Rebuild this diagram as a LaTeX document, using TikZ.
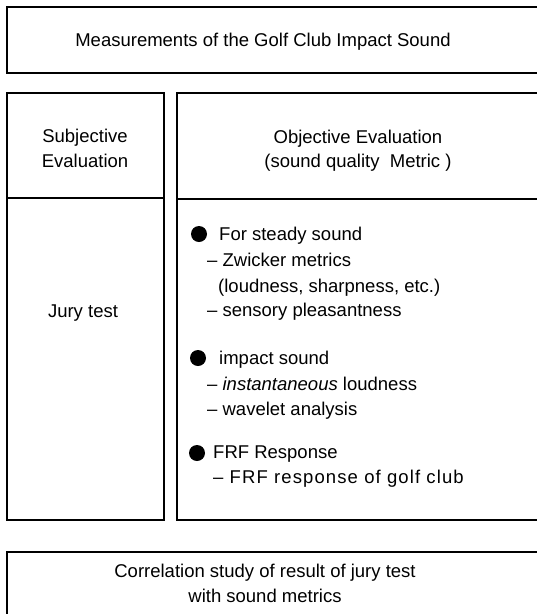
\documentclass[tikz,border=0pt]{standalone}
\usepackage{fontspec}
\setmainfont{Liberation Sans}
\begin{document}
\begin{tikzpicture}[x=1pt,y=-1pt,
  frame/.style={draw, line width=1.7pt, rectangle, anchor=north west, inner sep=0pt},
  txt/.style={anchor=base, inner sep=0pt, font=\fontsize{18.5}{25}\selectfont},
  ltxt/.style={anchor=base west, inner sep=0pt, font=\fontsize{18.5}{25}\selectfont},
  dot/.style={circle, fill=black, minimum size=16pt, inner sep=0pt}]
\useasboundingbox (0,0) rectangle (537,614);
\clip (0,0) rectangle (537,614);
% frames
\node[frame, minimum width=545pt, minimum height=66pt] (top) at (6,6) {};
\node[frame, minimum width=157pt, minimum height=105pt] (subj) at (6,92) {};
\node[frame, minimum width=157pt, minimum height=322pt] (jury) at (6,197) {};
\node[frame, minimum width=370pt, minimum height=106pt] (obj) at (176,92) {};
\node[frame, minimum width=370pt, minimum height=321pt] (objc) at (176,198) {};
\node[frame, minimum width=545pt, minimum height=80pt] (bot) at (6,551) {};
% texts
\node[txt] (t1) at (263,46) {Measurements of the Golf Club Impact Sound};
\node[txt] (s1) at (85,142) {Subjective};
\node[txt] (s2) at (85,167) {Evaluation};
\node[txt] (o1) at (358,143) {Objective Evaluation};
\node[txt] (o2) at (358,167) {(sound quality\ \ Metric )};
\node[txt] (j1) at (83,317) {Jury test};
% bullets
\node[dot] (b1) at (199,234) {};
\node[ltxt] (l1) at (219,240) {For steady sound};
\node[ltxt] (l2) at (207,266) {– Zwicker metrics};
\node[ltxt] (l3) at (218,292) {(loudness, sharpness, etc.)};
\node[ltxt] (l4) at (207,316) {– sensory pleasantness};
\node[dot] (b2) at (198,358) {};
\node[ltxt] (l5) at (219,364) {impact sound};
\node[ltxt] (l6) at (207,390) {– \textit{instantaneous} loudness};
\node[ltxt] (l7) at (207,415) {– wavelet analysis};
\node[dot] (b3) at (197,453) {};
\node[ltxt] (l8) at (213,458) {FRF Response};
\node[ltxt, font=\fontsize{18.5}{25}\selectfont\addfontfeature{LetterSpace=6}] (l9) at (213,483) {– FRF response of golf club};
\node[txt] (c1) at (265,577) {Correlation study of result of jury test};
\node[txt] (c2) at (265,602) {with sound metrics};
\end{tikzpicture}
\end{document}
